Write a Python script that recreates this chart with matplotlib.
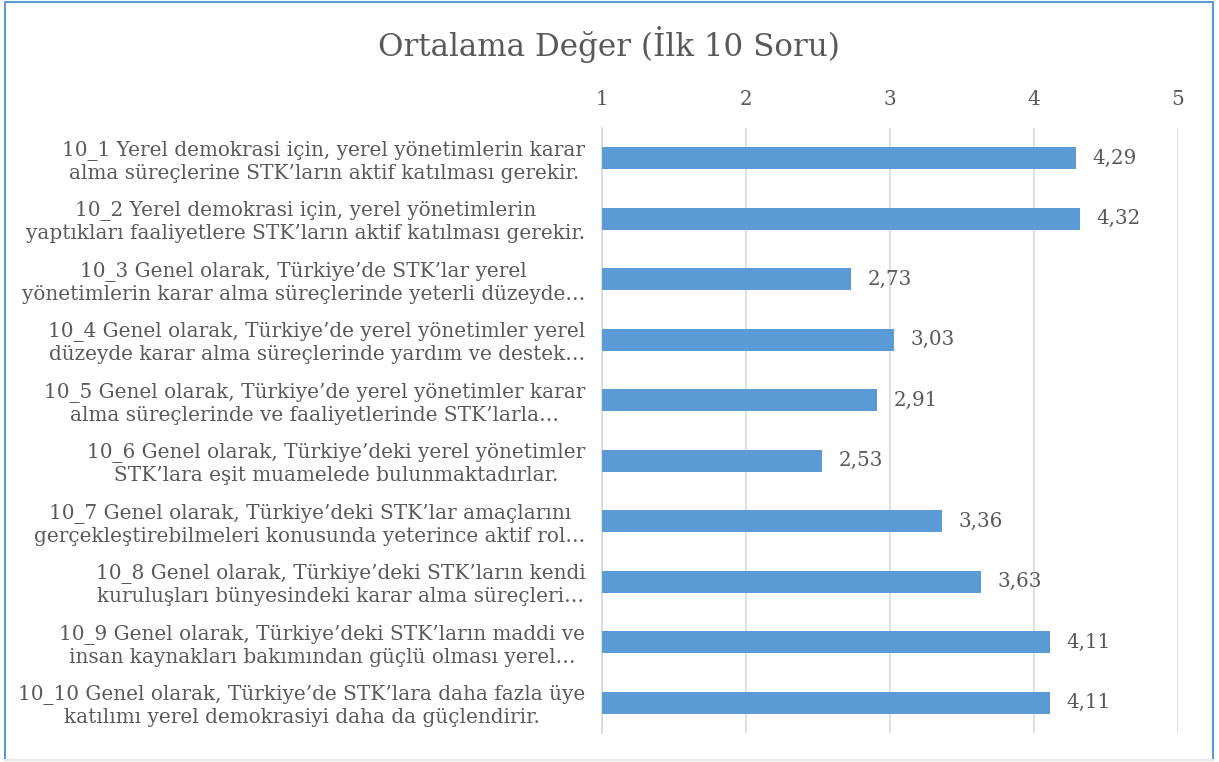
import matplotlib.pyplot as plt
from matplotlib.lines import Line2D

OUTPUT_FILE = "out.png"

questions = [
    "10_1 Yerel demokrasi için, yerel yönetimlerin karar\nalma süreçlerine STK’ların aktif katılması gerekir.",
    "10_2 Yerel demokrasi için, yerel yönetimlerin\nyaptıkları faaliyetlere STK’ların aktif katılması gerekir.",
    "10_3 Genel olarak, Türkiye’de STK’lar yerel\nyönetimlerin karar alma süreçlerinde yeterli düzeyde…",
    "10_4 Genel olarak, Türkiye’de yerel yönetimler yerel\ndüzeyde karar alma süreçlerinde yardım ve destek…",
    "10_5 Genel olarak, Türkiye’de yerel yönetimler karar\nalma süreçlerinde ve faaliyetlerinde STK’larla…",
    "10_6 Genel olarak, Türkiye’deki yerel yönetimler\nSTK’lara eşit muamelede bulunmaktadırlar.",
    "10_7 Genel olarak, Türkiye’deki STK’lar amaçlarını\ngerçekleştirebilmeleri konusunda yeterince aktif rol…",
    "10_8 Genel olarak, Türkiye’deki STK’ların kendi\nkuruluşları bünyesindeki karar alma süreçleri…",
    "10_9 Genel olarak, Türkiye’deki STK’ların maddi ve\ninsan kaynakları bakımından güçlü olması yerel…",
    "10_10 Genel olarak, Türkiye’de STK’lara daha fazla üye\nkatılımı yerel demokrasiyi daha da güçlendirir.",
]
means = [4.29, 4.32, 2.73, 3.03, 2.91, 2.53, 3.36, 3.63, 4.11, 4.11]
x_ticks = [1, 2, 3, 4, 5]

TEXT = "#595959"
BAR = "#5B9BD5"

plt.rcParams['font.family'] = ['DejaVu Serif']

fig = plt.figure(figsize=(12.19, 7.62), dpi=100)
ax = fig.add_axes([0.4938, 0.038, 0.4726, 0.794])

# Bars start at the axis minimum (1)
pos = list(range(len(means)))
ax.barh(pos, [m - 1 for m in means], left=1, height=0.36, color=BAR, zorder=3)

for p, m in zip(pos, means):
    ax.text(m + 0.115, p, f"{m:.2f}".replace(".", ","), va='center', ha='left',
            fontsize=14.3, color=TEXT)

ax.set_xlim(1, 5)
ax.set_ylim(len(means) - 0.5, -0.5)
ax.set_xticks(x_ticks)
ax.xaxis.tick_top()
ax.tick_params(axis='x', length=0, pad=14, labelsize=14.3, labelcolor=TEXT)
ax.set_yticks(pos)
ax.set_yticklabels(questions, fontsize=14.4, color=TEXT, multialignment='center',
                   linespacing=1.2)
ax.tick_params(axis='y', length=0, pad=12)
ax.grid(axis='x', color='#D9D9D9', linewidth=1.2, zorder=0)
for side in ['top', 'right', 'bottom']:
    ax.spines[side].set_visible(False)
ax.spines['left'].set_color('#D9D9D9')
ax.spines['left'].set_linewidth(1.2)

fig.text(0.5, 0.941, "Ortalama Değer (İlk 10 Soru)", ha='center', va='center',
         fontsize=22.3, color=TEXT)

# Chart frame: blue top/left/right, light grey bottom
x0, x1, y0, y1 = 0.004, 0.995, 0.003, 0.998
fig.add_artist(Line2D([x0, x0, x1, x1], [y0, y1, y1, y0], transform=fig.transFigure,
                      color=BAR, linewidth=1.5))
fig.add_artist(Line2D([x0, x1], [y0, y0], transform=fig.transFigure,
                      color='#E7E7E7', linewidth=1.5))

plt.savefig(OUTPUT_FILE, dpi=100)
plt.close()
